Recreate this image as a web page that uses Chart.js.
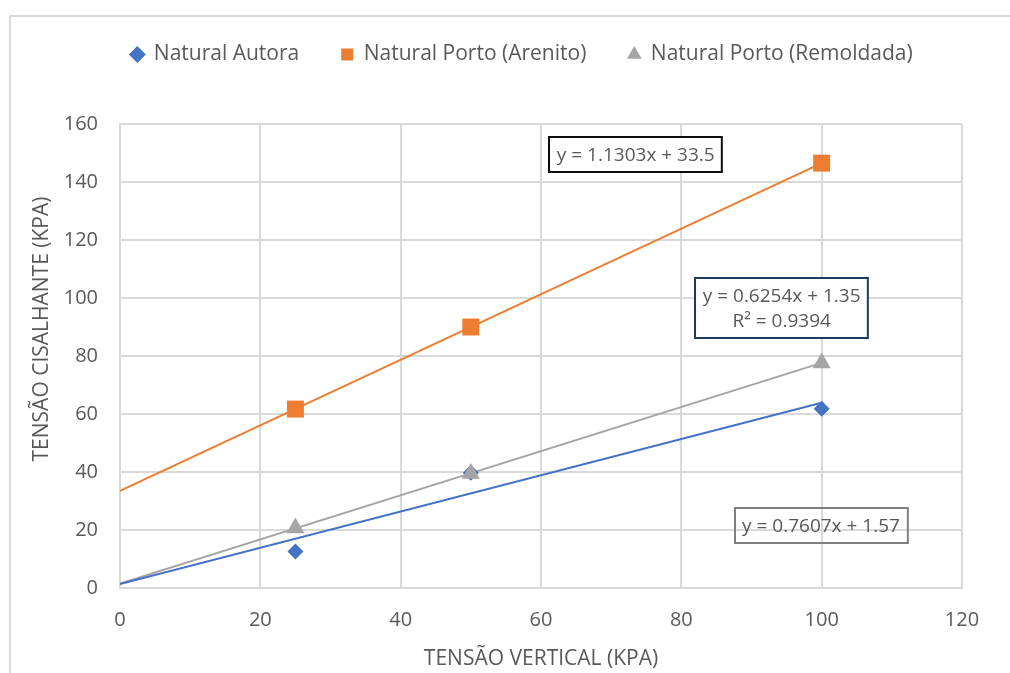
<!DOCTYPE html>
<html>
<head>
<meta charset="utf-8">
<script src="https://cdn.jsdelivr.net/npm/chart.js@4/dist/chart.umd.min.js"></script>
<style>
  html, body { margin:0; padding:0; background:#fff; overflow:hidden; }
  #frame { position:absolute; left:9px; top:15px; width:1200px; height:900px;
           border-left:2px solid #d9d9d9; border-top:2px solid #d9d9d9; }
  #chart { position:absolute; left:0; top:0; }
</style>
</head>
<body>
<div id="frame"></div>
<canvas id="chart" width="1010" height="673"></canvas>
<script>
/* Tensão cisalhante x tensão vertical — three samples, scatter + linear trend */

const X_VALUES = [25, 50, 100];
const AUTORA   = [12.6, 39.7, 61.8];
const ARENITO  = [61.7, 90, 146.5];
const REMOLD   = [20.7, 39.5, 77.6];

const SERIES_NAMES = ["Natural Autora", "Natural Porto (Arenito)", "Natural Porto (Remoldada)"];

// trend lines as printed on the chart (y = a·x + b), drawn over x 0..100
const TREND_X     = [0, 100];
const TREND_SLOPE = [0.6254, 1.1303, 0.7607];
const TREND_ICPT  = [1.35, 33.5, 1.57];

// equation boxes: text lines and anchor (data units)
const EQ_TEXT = [["y = 1.1303x + 33.5"], ["y = 0.6254x + 1.35", "R² = 0.9394"], ["y = 0.7607x + 1.57"]];
const EQ_AT_X = [73.5, 94.3, 99.9];
const EQ_AT_Y = [149.5, 96.7, 21.4];

const X_TITLE = "TENSÃO VERTICAL (KPA)";
const Y_TITLE = "TENSÃO CISALHANTE (KPA)";

const COLORS = ["#4472c4", "#ed7d31", "#a5a5a5"];
const EQ_BORDER = ["#0d0d0d", "#1f3864", "#7f7f7f"];
const EQ_FILL = ["#ffffff", "#ffffff", null];
const TXT = "#595959";
const GRID = "#d9d9d9";
const FONT = "'Open Sans', sans-serif";

function pts(ys){ return X_VALUES.map((x,i)=>({x, y:ys[i]})); }
function trend(i){ return TREND_X.map(x=>({x, y:TREND_SLOPE[i]*x + TREND_ICPT[i]})); }

const seriesData = [AUTORA, ARENITO, REMOLD];
const styles = [
  {pointStyle:"rectRot", pointRadius:8, order:1},
  {pointStyle:"rect", pointRadius:12, order:1},
  {pointStyle:"triangle", pointRadius:10.5, order:0},
];

const datasets = [];
seriesData.forEach((ys,i)=>{
  datasets.push({
    label: SERIES_NAMES[i], data: pts(ys), showLine:false,
    pointStyle: styles[i].pointStyle, pointRadius: styles[i].pointRadius,
    pointBackgroundColor: COLORS[i], pointBorderColor: COLORS[i], pointBorderWidth: 0,
    backgroundColor: COLORS[i], borderColor: COLORS[i], order: styles[i].order
  });
});
seriesData.forEach((ys,i)=>{
  datasets.push({
    label: "trend"+i, data: trend(i), showLine:true, pointRadius:0,
    borderColor: COLORS[i], borderWidth: 2, order: 5, isTrend: true
  });
});

const eqBoxes = {
  id: "eqBoxes",
  afterDatasetsDraw(chart){
    const {ctx, scales:{x, y}} = chart;
    ctx.save();
    ctx.font = "19px " + FONT;
    ctx.textAlign = "center";
    ctx.textBaseline = "middle";
    const lh = 25;
    EQ_TEXT.forEach((lines,i)=>{
      const cx = x.getPixelForValue(EQ_AT_X[i]);
      const cy = y.getPixelForValue(EQ_AT_Y[i]);
      const w = Math.max(...lines.map(l=>ctx.measureText(l).width)) + 15;
      const h = lines.length*lh + 10;
      const bx = Math.round(cx - w/2), by = Math.round(cy - h/2);
      if (EQ_FILL[i]){ ctx.fillStyle = EQ_FILL[i]; ctx.fillRect(bx, by, w, h); }
      ctx.lineWidth = 2;
      ctx.strokeStyle = EQ_BORDER[i];
      ctx.strokeRect(bx, by, w, h);
      ctx.fillStyle = TXT;
      lines.forEach((l,k)=>ctx.fillText(l, cx, by + 5 + lh*k + lh/2 + 1));
    });
    ctx.restore();
  }
};

const yTitle = {
  id: "yTitle",
  afterDraw(chart){
    const {ctx, chartArea} = chart;
    ctx.save();
    ctx.translate(42, (chartArea.top + chartArea.bottom)/2 - 27);
    ctx.rotate(-Math.PI/2);
    ctx.font = "21px " + FONT;
    ctx.fillStyle = TXT;
    ctx.textAlign = "center";
    ctx.textBaseline = "middle";
    ctx.fillText(Y_TITLE, 0, 0);
    ctx.restore();
  }
};

new Chart(document.getElementById("chart"), {
  type: "scatter",
  data: { datasets },
  plugins: [eqBoxes, yTitle],
  options: {
    responsive: false,
    devicePixelRatio: 1,
    animation: false,
    layout: { padding: { left: 44, right: 10, top: 2, bottom: 0 } },
    plugins: {
      tooltip: { enabled: false },
      legend: {
        position: "top", weight: 3000,
        labels: {
          color: TXT, font: { family: FONT, size: 21 }, padding: 42,
          usePointStyle: true, boxWidth: 12, boxHeight: 12,
          filter: (item, data) => !data.datasets[item.datasetIndex].isTrend,
          sort: (a, b) => a.datasetIndex - b.datasetIndex
        }
      },
      // empty title used only as spacing between legend and plot
      title: { display: true, text: "", font: { size: 10 }, padding: { top: 0, bottom: 37 } }
    },
    scales: {
      x: {
        type: "linear", min: 0, max: 120,
        ticks: { stepSize: 20, color: TXT, font: { family: FONT, size: 20 }, padding: 20 },
        grid: { color: GRID, lineWidth: 2, drawTicks: false },
        border: { color: GRID, width: 2 },
        title: { display: true, text: X_TITLE, color: TXT, font: { family: FONT, size: 21 }, padding: { top: 0, bottom: 1 } },
        afterFit(s){ s.height = 85; }
      },
      y: {
        type: "linear", min: 0, max: 160,
        ticks: { stepSize: 20, color: TXT, font: { family: FONT, size: 20 }, padding: 22 },
        grid: { color: GRID, lineWidth: 2, drawTicks: false },
        border: { color: GRID, width: 2 },
        afterFit(s){ s.width = 76; }
      },
      // blank right margin box (keeps the plot's right edge while the legend spans the full width)
      yRight: {
        type: "linear", position: "right", min: 0, max: 1,
        ticks: { display: false }, grid: { display: false }, border: { display: false },
        afterFit(s){ s.width = 38; }
      }
    }
  }
});
</script>
</body>
</html>
